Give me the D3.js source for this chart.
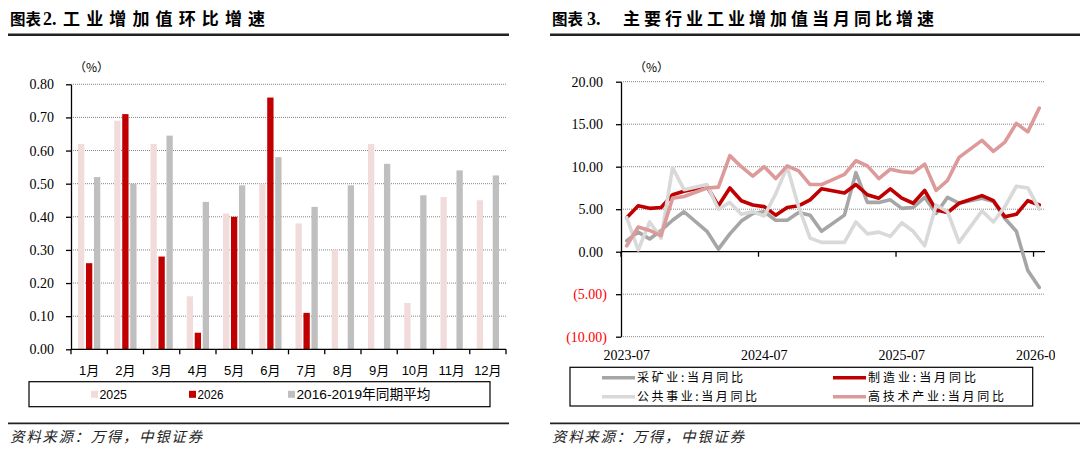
<!DOCTYPE html>
<html>
<head>
<meta charset="utf-8">
<script src="https://cdn.jsdelivr.net/npm/d3@7"></script>
<style>
  body { margin: 0; background: #fff; }
  text { font-family: "Liberation Sans", "Noto Sans CJK SC", sans-serif; fill: #000; }
  .serif { font-family: "Liberation Serif", "Noto Sans CJK SC", serif; }
  .cjk { font-family: "Noto Sans CJK SC", sans-serif; }
</style>
</head>
<body>
<svg id="chart" width="1080" height="475"></svg>
<script>
// 图表2：工业增加值环比增速
const months = ['1月', '2月', '3月', '4月', '5月', '6月', '7月', '8月', '9月', '10月', '11月', '12月'];
const data2025 = [0.62, 0.69, 0.62, 0.16, 0.41, 0.50, 0.38, 0.30, 0.62, 0.14, 0.46, 0.45];
const data2026 = [0.26, 0.71, 0.28, 0.05, 0.40, 0.76, 0.11];
const dataAvg = [0.52, 0.50, 0.645, 0.445, 0.495, 0.58, 0.43, 0.495, 0.56, 0.465, 0.54, 0.525];
const barTicks = [0, 0.1, 0.2, 0.3, 0.4, 0.5, 0.6, 0.7, 0.8];

// 图表3：主要行业工业增加值当月同比增速
const dates = [
  '2023-07', '2023-08', '2023-09', '2023-10', '2023-11', '2023-12',
  '2024-01', '2024-02', '2024-03', '2024-04', '2024-05', '2024-06',
  '2024-07', '2024-08', '2024-09', '2024-10', '2024-11', '2024-12',
  '2025-01', '2025-02', '2025-03', '2025-04', '2025-05', '2025-06',
  '2025-07', '2025-08', '2025-09', '2025-10', '2025-11', '2025-12',
  '2026-01', '2026-02', '2026-03', '2026-04', '2026-05', '2026-06',
  '2026-07'
];
const mining = [1.3, 2.3, 1.5, 2.5, 3.7, 4.7, null, 2.4, 0.3, 2.1, 3.6, 4.5, 4.7, 3.7, 3.7, 4.6, 4.3, 2.4, null, 4.3, 9.3, 5.8, 5.8, 6.1, 5.1, 5.2, 6.4, 4.5, 6.4, 5.7, null, 6.3, 5.9, 3.9, 2.4, -2.2, -4.2];
const manufacturing = [4.0, 5.4, 5.1, 5.2, 6.7, 7.1, null, 7.7, 5.4, 7.5, 6.0, 5.5, 5.3, 4.3, 5.2, 5.4, 6.1, 7.4, null, 6.9, 7.9, 6.7, 6.3, 7.4, 6.3, 5.7, 7.2, 4.9, 4.6, 5.7, null, 6.6, 6.0, 4.1, 4.4, 6.0, 5.5];
const utilities = [4.0, 0.2, 3.5, 1.6, 9.9, 7.3, null, 7.9, 5.0, 5.8, 4.4, 4.7, 4.2, 6.8, 10.0, 5.3, 1.6, 1.1, null, 1.1, 3.5, 2.1, 2.3, 1.8, 3.4, 2.4, 0.7, 5.5, 4.7, 1.1, null, 4.8, 3.5, 5.3, 7.7, 7.5, 5.0];
const hightech = [0.7, 2.9, 2.5, 1.9, 6.3, 6.5, null, 7.5, 7.6, 11.3, 10.0, 8.9, 10.0, 8.6, 10.1, 9.5, 7.9, 7.9, null, 9.1, 10.7, 10.1, 8.6, 9.7, 9.4, 9.3, 10.3, 7.2, 8.4, 11.1, null, 13.1, 11.8, 12.9, 15.1, 14.1, 16.9];
const lineTicks = [-10, -5, 0, 5, 10, 15, 20];
const dateLabels = ['2023-07', '2024-07', '2025-07', '2026-07'];

const svg = d3.select('#chart');

// 标题、分隔线、资料来源
function header(x0, numX, textX, textLen, x1, num, title) {
  const t = svg.append('text').attr('y', 25).style('font-weight', 'bold');
  t.append('tspan').attr('class', 'cjk').attr('x', x0).style('font-size', '15.5px').text('图表');
  t.append('tspan').attr('class', 'serif').attr('x', numX).style('font-size', '18px').text(num + '.');
  svg.append('text').attr('class', 'cjk').attr('x', textX).attr('y', 25)
    .style('font-weight', 'bold').style('font-size', '17px')
    .attr('textLength', textLen).attr('lengthAdjust', 'spacing')
    .text(title);
  svg.append('line').attr('x1', x0 - 2).attr('x2', x1).attr('y1', 34.7).attr('y2', 34.7)
    .attr('stroke', '#222').attr('stroke-width', 2.5);
  svg.append('line').attr('x1', x0 - 2).attr('x2', x1).attr('y1', 423.3).attr('y2', 423.3)
    .attr('stroke', '#222').attr('stroke-width', 1.8);
  svg.append('text').attr('class', 'cjk').attr('x', x0).attr('y', 442)
    .style('font-size', '14.5px').style('font-style', 'italic')
    .attr('textLength', 192).attr('lengthAdjust', 'spacing')
    .style('fill', '#222').text('资料来源：万得，中银证券');
}
header(10, 43, 63, 202, 509, 2, '工业增加值环比增速');
header(552, 587, 623, 311, 1080, 3, '主要行业工业增加值当月同比增速');

// ---------- 左图：柱状图 ----------
const x0 = d3.scaleBand().domain(months).range([71, 506]);
const groupW = 22.3;
const barSeries = [
  { key: '2025', values: data2025, color: '#f2dcdb' },
  { key: '2026', values: data2026, color: '#c00000' },
  { key: '2016-2019年同期平均', values: dataAvg, color: '#bfbfbf' }
];
const x1 = d3.scaleBand().domain(barSeries.map(d => d.key)).range([0, groupW]).paddingInner(0.21);
const yBar = d3.scaleLinear().domain([0, 0.8]).range([349.3, 84.3]);

const left = svg.append('g');
left.append('g').selectAll('line')
  .data(barTicks.filter(d => d > 0))
  .join('line')
  .attr('x1', 71).attr('x2', 506)
  .attr('y1', d => yBar(d)).attr('y2', d => yBar(d))
  .attr('stroke', '#777').attr('stroke-width', 0.9).attr('stroke-dasharray', '1,1');

barSeries.forEach(s => {
  left.append('g').selectAll('rect')
    .data(s.values.map((v, i) => ({ m: months[i], v })))
    .join('rect')
    .attr('x', d => x0(d.m) + (x0.bandwidth() - groupW) / 2 + x1(s.key))
    .attr('width', x1.bandwidth())
    .attr('y', d => yBar(d.v))
    .attr('height', d => yBar(0) - yBar(d.v))
    .attr('fill', s.color);
});

const yAxisL = left.append('g').attr('transform', 'translate(71,0)')
  .call(d3.axisLeft(yBar).tickValues(barTicks).tickFormat(d3.format('.2f')).tickSize(5).tickSizeOuter(0).tickPadding(12));
yAxisL.selectAll('text').attr('class', 'serif').style('font-size', '14px');
yAxisL.selectAll('line, path').attr('stroke', '#000').attr('stroke-width', 1.3);

// x 轴
left.append('line').attr('x1', 71).attr('x2', 506).attr('y1', yBar(0)).attr('y2', yBar(0))
  .attr('stroke', '#000').attr('stroke-width', 1.3);
left.append('g').selectAll('line')
  .data(months.map(m => x0(m)).concat([x0.range()[1]]))
  .join('line')
  .attr('x1', d => d).attr('x2', d => d)
  .attr('y1', yBar(0)).attr('y2', yBar(0) + 5)
  .attr('stroke', '#000').attr('stroke-width', 1.3);
left.append('g').selectAll('text')
  .data(months)
  .join('text')
  .attr('x', d => x0(d) + x0.bandwidth() / 2)
  .attr('y', 375)
  .attr('text-anchor', 'middle')
  .style('font-size', '13px')
  .text(d => d);
left.append('text').attr('class', 'cjk').attr('x', 74).attr('y', 72).style('font-size', '12px').text('（%）');

// 左图例
left.append('rect').attr('x', 29).attr('y', 381.7).attr('width', 461).attr('height', 25)
  .attr('fill', 'none').attr('stroke', '#000').attr('stroke-width', 1.2);
const legL = left.append('g').selectAll('g')
  .data(barSeries.map((s, i) => ({ ...s, x: [91, 189, 288][i] })))
  .join('g');
legL.append('rect').attr('x', d => d.x).attr('y', 390.8).attr('width', 7).attr('height', 7).attr('fill', d => d.color);
legL.append('text').attr('x', d => d.x + 8.5).attr('y', 399).style('font-size', '13.5px')
  .attr('textLength', (d, i) => [27.5, 26, 134][i]).attr('lengthAdjust', 'spacingAndGlyphs')
  .text(d => d.key);

// ---------- 右图：折线图 ----------
const xLine = d3.scaleBand().domain(dates).range([621, 1045]);
const yLine = d3.scaleLinear().domain([-10, 20]).range([336.7, 81.7]);
const half = xLine.bandwidth() / 2;

const right = svg.append('g');
right.append('g').selectAll('line')
  .data(lineTicks.filter(d => d !== 0))
  .join('line')
  .attr('x1', 621).attr('x2', 1045)
  .attr('y1', d => yLine(d)).attr('y2', d => yLine(d))
  .attr('stroke', '#777').attr('stroke-width', 0.9).attr('stroke-dasharray', '1,1');

const lineSeries = [
  { name: '采矿业:当月同比', values: mining, color: '#a6a6a6', len: 106 },
  { name: '制造业:当月同比', values: manufacturing, color: '#c00000', len: 108 },
  { name: '公共事业:当月同比', values: utilities, color: '#d9d9d9', len: 120 },
  { name: '高技术产业:当月同比', values: hightech, color: '#dc9a9a', len: 136 }
];
const line = d3.line().x(d => xLine(d.date) + half).y(d => yLine(d.v));

// y 轴
const fmt = d3.format('.2f');
const yAxisR = right.append('g').attr('transform', 'translate(621,0)')
  .call(d3.axisLeft(yLine).tickValues(lineTicks)
    .tickFormat(d => d < 0 ? `(${fmt(-d)})` : fmt(d))
    .tickSize(5).tickSizeOuter(0).tickPadding(9));
yAxisR.selectAll('text').attr('class', 'serif').style('font-size', '14px')
  .attr('dx', d => d < 0 ? 0 : -4)
  .style('fill', d => d < 0 ? '#ff0000' : '#000');
yAxisR.selectAll('line, path').attr('stroke', '#000').attr('stroke-width', 1.3);

// x 轴（0 值处）
right.append('line').attr('x1', 621).attr('x2', 1045).attr('y1', yLine(0)).attr('y2', yLine(0))
  .attr('stroke', '#000').attr('stroke-width', 1.3);
right.append('g').selectAll('line')
  .data(dateLabels)
  .join('line')
  .attr('x1', d => xLine(d)).attr('x2', d => xLine(d))
  .attr('y1', yLine(0)).attr('y2', yLine(0) + 5)
  .attr('stroke', '#000').attr('stroke-width', 1.3);

svg.append('clipPath').attr('id', 'clipR').append('rect')
  .attr('x', 540).attr('y', 0).attr('width', 515).attr('height', 475);
right.append('g').attr('clip-path', 'url(#clipR)').selectAll('text')
  .data(dateLabels)
  .join('text')
  .attr('class', 'serif')
  .attr('x', d => xLine(d) + half)
  .attr('y', 360)
  .attr('text-anchor', 'middle')
  .style('font-size', '14px')
  .text(d => d);

right.append('g').selectAll('path')
  .data(lineSeries)
  .join('path')
  .attr('d', s => line(dates.map((date, i) => ({ date, v: s.values[i] })).filter(d => d.v !== null)))
  .attr('fill', 'none')
  .attr('stroke', s => s.color)
  .attr('stroke-width', 3.6)
  .attr('stroke-linejoin', 'round')
  .attr('stroke-linecap', 'round');

right.append('text').attr('class', 'cjk').attr('x', 634).attr('y', 72).style('font-size', '12px').text('（%）');

// 右图例
right.append('rect').attr('x', 570).attr('y', 367.3).attr('width', 462.7).attr('height', 38.7)
  .attr('fill', 'none').attr('stroke', '#000').attr('stroke-width', 1.2);
const legPos = [[602, 377.7], [833, 377.7], [602, 396.7], [833, 396.7]];
const legR = right.append('g').selectAll('g')
  .data(lineSeries.map((s, i) => ({ ...s, x: legPos[i][0], y: legPos[i][1] })))
  .join('g');
legR.append('line')
  .attr('x1', d => d.x).attr('x2', d => d.x + 33)
  .attr('y1', d => d.y).attr('y2', d => d.y)
  .attr('stroke', d => d.color).attr('stroke-width', 3.6);
legR.append('text').attr('class', 'cjk')
  .attr('x', d => d.x + 35).attr('y', d => d.y + 4.3)
  .style('font-size', '12px')
  .attr('textLength', d => d.len).attr('lengthAdjust', 'spacing')
  .text(d => d.name);
</script>
</body>
</html>
